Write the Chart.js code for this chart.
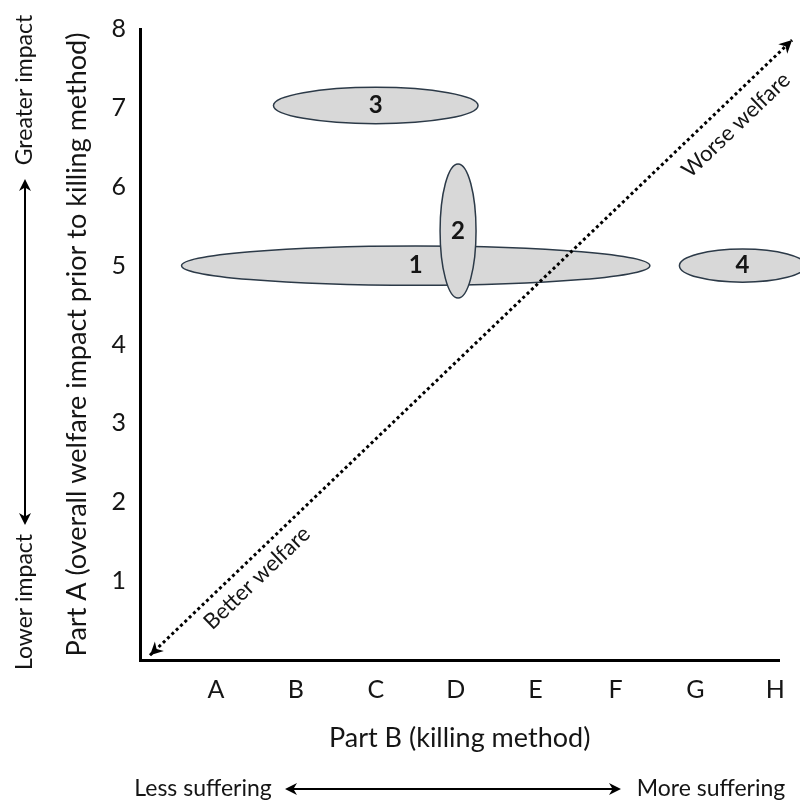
<!DOCTYPE html>
<html>
<head>
<meta charset="utf-8">
<script src="https://cdn.jsdelivr.net/npm/chart.js@4.4.1/dist/chart.umd.min.js"></script>
<style>
  html, body { margin: 0; padding: 0; background: #fff; }
  #wrap { width: 800px; height: 805px; position: relative; }
</style>
</head>
<body>
<div id="wrap"><canvas id="c"></canvas></div>
<script>
// ---- data ----
const categories = ['A', 'B', 'C', 'D', 'E', 'F', 'G', 'H'];
const categoryPositions = [1, 2, 3, 4, 5, 6, 7, 8];
const yTickValues = [1, 2, 3, 4, 5, 6, 7, 8];
const groupLabels = ['1', '2', '3', '4'];
const groupCenterX = [3.5, 4.03, 3.0, 7.59];
const groupCenterY = [5.0, 5.44, 7.03, 5.0];
const groupSpreadX = [2.93, 0.225, 1.28, 0.79];
const groupSpreadY = [0.25, 0.85, 0.23, 0.21];
const welfareX = [0.175, 8.21];
const welfareY = [0.06, 7.86];

const TEXT = '#151515';
const FONT = 'Lato, "Open Sans", sans-serif';

function drawArrowHead(ctx, x, y, angle, size) {
  ctx.save();
  ctx.translate(x, y);
  ctx.rotate(angle);
  ctx.beginPath();
  ctx.moveTo(0, 0);
  ctx.lineTo(-size, -size * 0.5);
  ctx.lineTo(-size * 0.7, 0);
  ctx.lineTo(-size, size * 0.5);
  ctx.closePath();
  ctx.fill();
  ctx.restore();
}

const ellipsePlugin = {
  id: 'ellipses',
  beforeDatasetsDraw(chart) {
    const { ctx, scales: { x, y } } = chart;
    ctx.save();
    for (let i = 0; i < groupLabels.length; i++) {
      const cx = x.getPixelForValue(groupCenterX[i]);
      const cy = y.getPixelForValue(groupCenterY[i]);
      const rx = Math.abs(x.getPixelForValue(groupCenterX[i] + groupSpreadX[i]) - cx);
      const ry = Math.abs(y.getPixelForValue(groupCenterY[i] + groupSpreadY[i]) - cy);
      ctx.beginPath();
      ctx.ellipse(cx, cy, rx, ry, 0, 0, Math.PI * 2);
      ctx.fillStyle = '#d8d8d8';
      ctx.fill();
      ctx.lineWidth = 1.5;
      ctx.strokeStyle = '#2c3a48';
      ctx.stroke();
    }
    ctx.fillStyle = TEXT;
    ctx.font = 'bold 24px ' + FONT;
    ctx.textAlign = 'center';
    ctx.textBaseline = 'middle';
    for (let i = 0; i < groupLabels.length; i++) {
      ctx.fillText(groupLabels[i], x.getPixelForValue(groupCenterX[i]), y.getPixelForValue(groupCenterY[i]));
    }
    ctx.restore();
  },
  afterDatasetsDraw(chart) {
    const { ctx, scales: { x, y } } = chart;
    const x0 = x.getPixelForValue(welfareX[0]), y0 = y.getPixelForValue(welfareY[0]);
    const x1 = x.getPixelForValue(welfareX[1]), y1 = y.getPixelForValue(welfareY[1]);
    const ang = Math.atan2(y1 - y0, x1 - x0);
    ctx.save();
    ctx.fillStyle = '#000';
    drawArrowHead(ctx, x1, y1, ang, 13);
    drawArrowHead(ctx, x0, y0, ang + Math.PI, 13);

    // welfare labels along the diagonal
    ctx.fillStyle = TEXT;
    ctx.textAlign = 'center';
    ctx.textBaseline = 'middle';
    ctx.font = '22px ' + FONT;
    ctx.save();
    ctx.translate(736, 125);
    ctx.rotate(ang);
    ctx.fillText('Worse welfare', 0, 0);
    ctx.restore();
    ctx.save();
    ctx.translate(257, 578);
    ctx.rotate(ang);
    ctx.fillText('Better welfare', 0, 0);
    ctx.restore();

    // left side indicator
    ctx.font = '23px ' + FONT;
    ctx.save();
    ctx.translate(25, 90);
    ctx.rotate(-Math.PI / 2);
    ctx.fillText('Greater impact', 0, 0);
    ctx.restore();
    ctx.save();
    ctx.translate(25, 602);
    ctx.rotate(-Math.PI / 2);
    ctx.fillText('Lower impact', 0, 0);
    ctx.restore();
    ctx.strokeStyle = '#000';
    ctx.fillStyle = '#000';
    ctx.lineWidth = 2;
    ctx.beginPath();
    ctx.moveTo(25, 186);
    ctx.lineTo(25, 518);
    ctx.stroke();
    drawArrowHead(ctx, 25, 179, -Math.PI / 2, 12);
    drawArrowHead(ctx, 25, 525, Math.PI / 2, 12);

    // bottom indicator
    ctx.fillStyle = TEXT;
    ctx.font = '23px ' + FONT;
    ctx.fillText('Less suffering', 203, 789);
    ctx.fillText('More suffering', 711, 789);
    ctx.beginPath();
    ctx.moveTo(292, 789);
    ctx.lineTo(614, 789);
    ctx.stroke();
    ctx.fillStyle = '#000';
    drawArrowHead(ctx, 285, 789, Math.PI, 12);
    drawArrowHead(ctx, 621, 789, 0, 12);
    ctx.restore();
  }
};

Chart.defaults.font.family = FONT;
Chart.defaults.color = TEXT;

new Chart(document.getElementById('c'), {
  type: 'scatter',
  data: {
    datasets: [{
      type: 'line',
      data: welfareX.map((v, i) => ({ x: v, y: welfareY[i] })),
      borderColor: '#000',
      borderWidth: 3,
      borderDash: [3, 3],
      pointRadius: 0,
      fill: false,
      clip: false
    }]
  },
  options: {
    responsive: true,
    maintainAspectRatio: false,
    animation: false,
    layout: { padding: { left: 0, right: 20, top: 18, bottom: 0 } },
    plugins: { legend: { display: false }, tooltip: { enabled: false } },
    scales: {
      x: {
        type: 'linear',
        min: 0.05,
        max: 8.05,
        grid: { display: false, drawTicks: false },
        border: { display: true, color: '#000', width: 3 },
        afterBuildTicks(scale) { scale.ticks = categoryPositions.map(v => ({ value: v })); },
        ticks: {
          padding: 15,
          font: { size: 25 },
          color: TEXT,
          callback(value) { return categories[categoryPositions.indexOf(value)]; }
        },
        title: {
          display: true,
          text: 'Part B (killing method)',
          font: { size: 27 },
          color: TEXT,
          padding: { top: 0, bottom: 51 }
        },
        afterFit(scale) { scale.height = 145; }
      },
      y: {
        type: 'linear',
        min: 0,
        max: 8,
        grid: { display: false, drawTicks: false },
        border: { display: true, color: '#000', width: 3 },
        afterBuildTicks(scale) { scale.ticks = yTickValues.map(v => ({ value: v })); },
        ticks: {
          padding: 14,
          font: { size: 25 },
          color: TEXT
        },
        title: {
          display: true,
          text: 'Part A (overall welfare impact prior to killing method)',
          font: { size: 27 },
          color: TEXT,
          padding: { top: 61, bottom: 0 }
        },
        afterFit(scale) { scale.width = 140; }
      }
    }
  },
  plugins: [ellipsePlugin]
});
</script>
</body>
</html>
